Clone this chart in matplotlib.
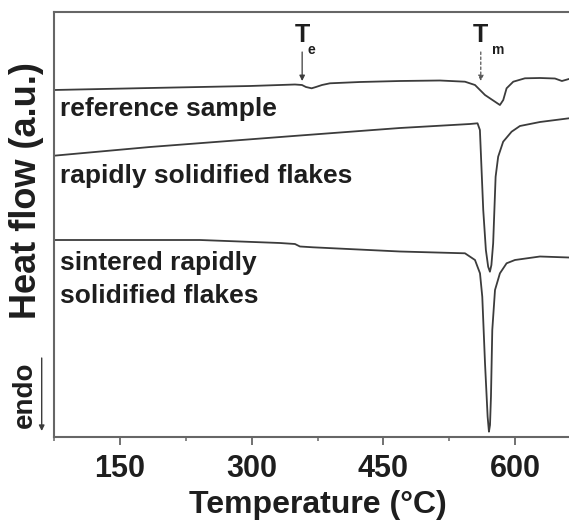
import matplotlib
matplotlib.use("Agg")
import matplotlib.pyplot as plt
from matplotlib.ticker import MultipleLocator

plt.rcParams['font.family'] = ['Liberation Sans', 'DejaVu Sans']
plt.rcParams['font.weight'] = 'bold'

# ---- data (temperature in °C, heat flow in a.u.) ----
ref_T = [74.8, 184.1, 298.0, 349.3, 357.3, 361.8, 368.3, 373.2, 380.1, 389.2, 423.3,
         468.9, 514.5, 543.0, 554.4, 565.8, 577.2, 582.8, 586.6, 590.4, 598.0, 611.3,
         628.4, 645.5, 653.4, 661.4]
ref_H = [34.7, 34.9, 35.1, 35.25, 35.2, 35.0, 34.87, 35.0, 35.2, 35.37, 35.5,
         35.6, 35.65, 35.53, 35.2, 34.2, 33.53, 33.2, 33.7, 34.87, 35.53, 35.87,
         35.9, 35.85, 35.6, 35.8]

rsf_T = [74.8, 184.1, 355.0, 468.9, 548.6, 557.3, 560.0, 563.8, 566.8, 569.4, 571.4,
         573.1, 575.1, 577.9, 580.8, 586.5, 596.1, 605.6, 628.4, 661.4]
rsf_H = [28.13, 29.0, 30.15, 30.9, 31.3, 31.37, 30.7, 22.7, 18.7, 17.03, 16.53,
         17.2, 19.37, 26.03, 28.03, 29.53, 30.53, 31.1, 31.5, 31.87]

sin_T = [74.8, 241.1, 332.2, 349.3, 355.0, 369.8, 468.9, 543.0, 554.4, 560.1, 562.7,
         565.8, 568.8, 570.3, 571.5, 572.6, 574.1, 577.2, 582.8, 590.4, 599.9, 628.4,
         661.4]
sin_H = [19.7, 19.7, 19.4, 19.3, 19.05, 18.97, 18.55, 18.37, 17.7, 16.37, 14.03,
         7.4, 2.03, 0.53, 1.2, 4.03, 10.7, 14.7, 16.37, 17.37, 17.7, 18.05,
         17.95]

labels = ["reference sample", "rapidly solidified flakes",
          "sintered rapidly", "solidified flakes"]
xticks = [150, 300, 450, 600]
Te = 357.5
Tm = 561.0

# ---- figure ----
fig = plt.figure(figsize=(5.69, 5.23), dpi=100)
ax = fig.add_axes([54/569, 1-437/523, 1-54/569, (437-12)/523])

line_c = '#3c3c3c'
text_c = '#1e1e1e'
for T, H in [(ref_T, ref_H), (rsf_T, rsf_H), (sin_T, sin_H)]:
    ax.plot(T, H, color=line_c, lw=1.3)

ax.set_xlim(74.8, 661.5)
ax.set_ylim(0, 42.5)

for s in ['left', 'bottom', 'top']:
    ax.spines[s].set_color('#666666')
    ax.spines[s].set_linewidth(1.5)
ax.spines['right'].set_visible(False)

ax.set_yticks([])
ax.set_xticks(xticks)
ax.xaxis.set_minor_locator(MultipleLocator(75))
ax.tick_params(axis='x', which='major', direction='out', length=6, width=1.3,
               color='#666666', labelsize=22, labelcolor=text_c, pad=6)
ax.tick_params(axis='x', which='minor', direction='out', length=3, width=1.1,
               color='#666666')
for lab in ax.get_xticklabels():
    lab.set_fontweight('bold')

# curve labels
fs = 19
ax.text(81.6, 32.1, labels[0], fontsize=fs, fontweight='bold', color=text_c, va='baseline')
ax.text(81.6, 25.4, labels[1], fontsize=fs, fontweight='bold', color=text_c, va='baseline')
ax.text(81.6, 16.7, labels[2], fontsize=fs, fontweight='bold', color=text_c, va='baseline')
ax.text(81.6, 13.4, labels[3], fontsize=fs, fontweight='bold', color=text_c, va='baseline')

# Te / Tm markers
ax.text(Te, 39.53, "T", fontsize=18, fontweight='bold', color=text_c, ha='center', va='baseline')
ax.text(Te + 10.7, 38.25, "e", fontsize=10, fontweight='bold', color=text_c, ha='center', va='baseline')
ax.text(Tm, 39.53, "T", fontsize=18, fontweight='bold', color=text_c, ha='center', va='baseline')
ax.text(Tm + 19.5, 38.25, "m", fontsize=10, fontweight='bold', color=text_c, ha='center', va='baseline')
ax.annotate('', xy=(Te, 35.6), xytext=(Te, 38.5),
            arrowprops=dict(arrowstyle='-|>', color=line_c, lw=0.9, mutation_scale=8,
                            shrinkA=0, shrinkB=0))
ax.annotate('', xy=(Tm, 35.6), xytext=(Tm, 38.5),
            arrowprops=dict(arrowstyle='-|>', color='#555555', lw=0.9, mutation_scale=8,
                            linestyle=(0, (2, 2)), shrinkA=0, shrinkB=0))

# axis labels
fig.text(317.5/569, 1-505/523, "Temperature (°C)", fontsize=23, fontweight='bold',
         color=text_c, ha='center', va='center')
fig.text(27/569, 1-191/523, "Heat flow (a.u.)", fontsize=26, fontweight='bold',
         color=text_c, ha='center', va='center', rotation=90)
fig.text(25/569, 1-395/523, "endo", fontsize=20, fontweight='bold',
         color=text_c, ha='center', va='center', rotation=90)
fig.add_artist(matplotlib.patches.FancyArrowPatch(
    (41.7/569, 1-358/523), (41.7/569, 1-431/523), transform=fig.transFigure,
    arrowstyle='-|>', mutation_scale=8, color=line_c, lw=1.0,
    shrinkA=0, shrinkB=0))

fig.savefig("out.png", dpi=100)
